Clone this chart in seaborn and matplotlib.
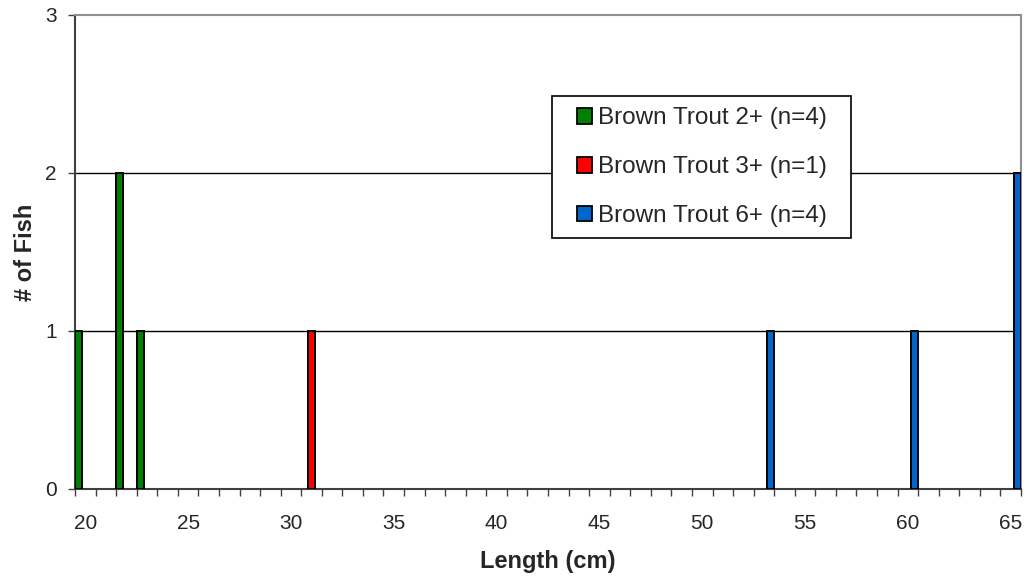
import matplotlib
matplotlib.use("Agg")
import matplotlib.pyplot as plt
import matplotlib.patches as mpatches
from matplotlib.transforms import IdentityTransform
from matplotlib.legend_handler import HandlerPatch
import seaborn as sns
import pandas as pd
from matplotlib.ticker import FixedLocator

# Data
lengths = list(range(20, 66))
groups = ["Brown Trout 2+ (n=4)", "Brown Trout 3+ (n=1)", "Brown Trout 6+ (n=4)"]
green_len = [20, 22, 23]
green_cnt = [1, 2, 1]
red_len = [31]
red_cnt = [1]
blue_len = [53, 60, 65]
blue_cnt = [1, 1, 2]
colors = ["#008000", "#FF0000", "#0066CC"]
tick_labels = [20, 25, 30, 35, 40, 45, 50, 55, 60, 65]

rows = []
for g, ls, cs in zip(groups, [green_len, red_len, blue_len], [green_cnt, red_cnt, blue_cnt]):
    for l, c in zip(ls, cs):
        rows.append({"Length": l, "Count": c, "Group": g})
df = pd.DataFrame(rows)

sns.set_style("white")
plt.rcParams["font.family"] = ["Liberation Sans", "DejaVu Sans"]

fig = plt.figure(figsize=(10.29, 5.77), dpi=100)
ax = fig.add_axes([75/1029, 1 - 489/577, 946/1029, 474/577])

sns.barplot(data=df, x="Length", y="Count", hue="Group", order=lengths,
            hue_order=groups, palette=colors, saturation=1, width=1.0, dodge=True, gap=0,
            edgecolor="black", linewidth=1.4, errorbar=None, ax=ax, zorder=3)

ax.set_xlim(-0.5, len(lengths) - 0.5)
ax.set_ylim(0, 3)
ax.set_yticks([0, 1, 2, 3])
ax.set_yticklabels(["0", "1", "2", "3"], fontsize=15)

# x labels at category centers, tick marks at category boundaries
pos = [lengths.index(v) for v in tick_labels]
ax.set_xticks(pos)
ax.set_xticklabels([str(v) for v in tick_labels], fontsize=15)
ax.xaxis.set_minor_locator(FixedLocator([i - 0.5 for i in range(len(lengths) + 1)]))
ax.tick_params(axis="x", which="major", length=0, pad=18)
ax.tick_params(axis="x", which="minor", length=5, width=1, color="#404040", direction="out", bottom=True)
ax.tick_params(axis="y", which="major", length=5, width=1, color="#404040", direction="out", left=True, pad=8)

for y in [1, 2]:
    ax.axhline(y, color="black", lw=1, zorder=1)

for s in ["top", "right"]:
    ax.spines[s].set_color("#909090")
    ax.spines[s].set_linewidth(1.5)
for s in ["left", "bottom"]:
    ax.spines[s].set_color("#404040")
    ax.spines[s].set_linewidth(1.5)

ax.set_xlabel("Length (cm)", fontsize=17, fontweight="bold", labelpad=12)
ax.set_ylabel("# of Fish", fontsize=17, fontweight="bold", labelpad=6)


class SquareHandler(HandlerPatch):
    def create_artists(self, legend, orig_handle, xdescent, ydescent,
                       width, height, fontsize, trans):
        side = 0.65 * fontsize
        p = mpatches.Rectangle((width - side - xdescent, -ydescent + (height - side) / 2),
                               side, side, facecolor=orig_handle.get_facecolor(),
                               edgecolor="black", linewidth=1.3, transform=trans)
        return [p]


handles, labels = ax.get_legend_handles_labels()
ax.get_legend().remove()
leg = ax.legend(handles, labels, loc="upper left", bbox_to_anchor=(0.504, 0.829),
                borderaxespad=0, fontsize=17.5, frameon=False,
                handlelength=1.2, handleheight=0.65,
                handletextpad=0.25, labelspacing=1.1, borderpad=0.47,
                handler_map={mpatches.Rectangle: SquareHandler()})
leg.set_zorder(5)

fig.canvas.draw()
bb = leg.get_window_extent()
frame = mpatches.Rectangle((bb.x0, bb.y0), bb.width + 12, bb.height,
                           transform=IdentityTransform(), facecolor="white",
                           edgecolor="black", linewidth=1.2, zorder=4.5, clip_on=False)
ax.add_patch(frame)

fig.savefig("out.png", dpi=100)
